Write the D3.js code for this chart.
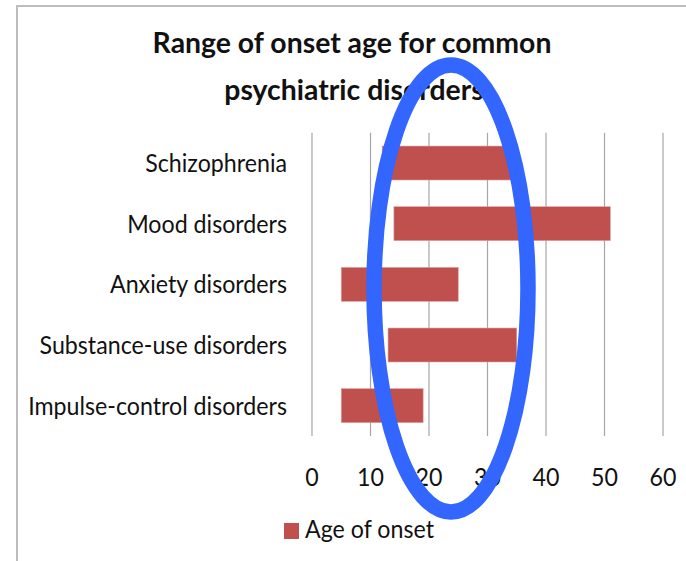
<!DOCTYPE html>
<html><head><meta charset="utf-8">
<script src="https://cdn.jsdelivr.net/npm/d3@7"></script>
<style>html,body{margin:0;padding:0;background:#fff;} svg{display:block;}</style>
</head><body>
<svg id="chart" width="686" height="561"></svg>
<script>
const titleLines = ["Range of onset age for common", "psychiatric disorders"];
const categories = ["Schizophrenia", "Mood disorders", "Anxiety disorders", "Substance-use disorders", "Impulse-control disorders"];
const onsetStart = [12, 14, 5, 13, 5];
const onsetEnd = [35, 51, 25, 35, 19];
const tickValues = [0, 10, 20, 30, 40, 50, 60];
const legendLabel = "Age of onset";

const svg = d3.select("#chart");
const FONT = "Lato, 'Open Sans', sans-serif";
const barColor = "#c0504d";

// frame
svg.append("path").attr("d", "M17,561 L17,6 L686,6").attr("fill", "none")
  .attr("stroke", "#bdbdbd").attr("stroke-width", 2);

const x = d3.scaleLinear().domain([0, 60]).range([312, 663]);
const y = d3.scaleBand().domain(categories).range([132.7, 436]).paddingInner(0.44).paddingOuter(0.22);

// helper: horizontally compressed text
function ctext(g, str, tx, ty, size, weight, anchor, sx) {
  return g.append("text").attr("transform", `translate(${tx},${ty}) scale(${sx},1)`)
    .attr("font-family", FONT).attr("font-size", size).attr("font-weight", weight)
    .attr("text-anchor", anchor).attr("fill", "#111").text(str);
}
function measure(str, size, weight) {
  const t = svg.append("text").attr("font-family", FONT).attr("font-size", size).attr("font-weight", weight).text(str);
  const w = t.node().getComputedTextLength(); t.remove(); return w;
}
const titleSx = 399 / measure(titleLines[0], 28, "bold");
const labelSx = 259 / measure(categories[4], 25, "normal");

// gridlines
svg.append("g").selectAll("line").data(tickValues).join("line")
  .attr("x1", d => x(d)).attr("x2", d => x(d)).attr("y1", 132.7).attr("y2", 436)
  .attr("stroke", "#a6a6a6").attr("stroke-width", 1.2);

// bars
svg.append("g").selectAll("rect").data(categories).join("rect")
  .attr("x", (d, i) => x(onsetStart[i])).attr("width", (d, i) => x(onsetEnd[i]) - x(onsetStart[i]))
  .attr("y", d => y(d)).attr("height", y.bandwidth()).attr("fill", barColor)
  .attr("stroke", "#d9a3a2").attr("stroke-width", 0.6);

// category labels
const lg = svg.append("g");
categories.forEach(c => ctext(lg, c, 287, y(c) + y.bandwidth() / 2 + 9, 25, "normal", "end", labelSx));

// tick labels
const tg = svg.append("g");
tickValues.forEach(v => ctext(tg, String(v), x(v), 486, 25, "normal", "middle", labelSx));

// title
const ttl = svg.append("g");
ctext(ttl, titleLines[0], 352, 53, 28, "bold", "middle", titleSx);
ctext(ttl, titleLines[1], 354, 100, 28, "bold", "middle", titleSx);

// legend
svg.append("rect").attr("x", 284).attr("y", 523).attr("width", 15).attr("height", 16).attr("fill", barColor);
ctext(svg.append("g"), legendLabel, 305, 538, 25, "normal", "start", labelSx);

// annotation ellipse
svg.append("ellipse").attr("cx", 451).attr("cy", 288.5).attr("rx", 77).attr("ry", 223.5)
  .attr("fill", "none").attr("stroke", "#3366ff").attr("stroke-width", 15.5);
</script>
</body></html>
